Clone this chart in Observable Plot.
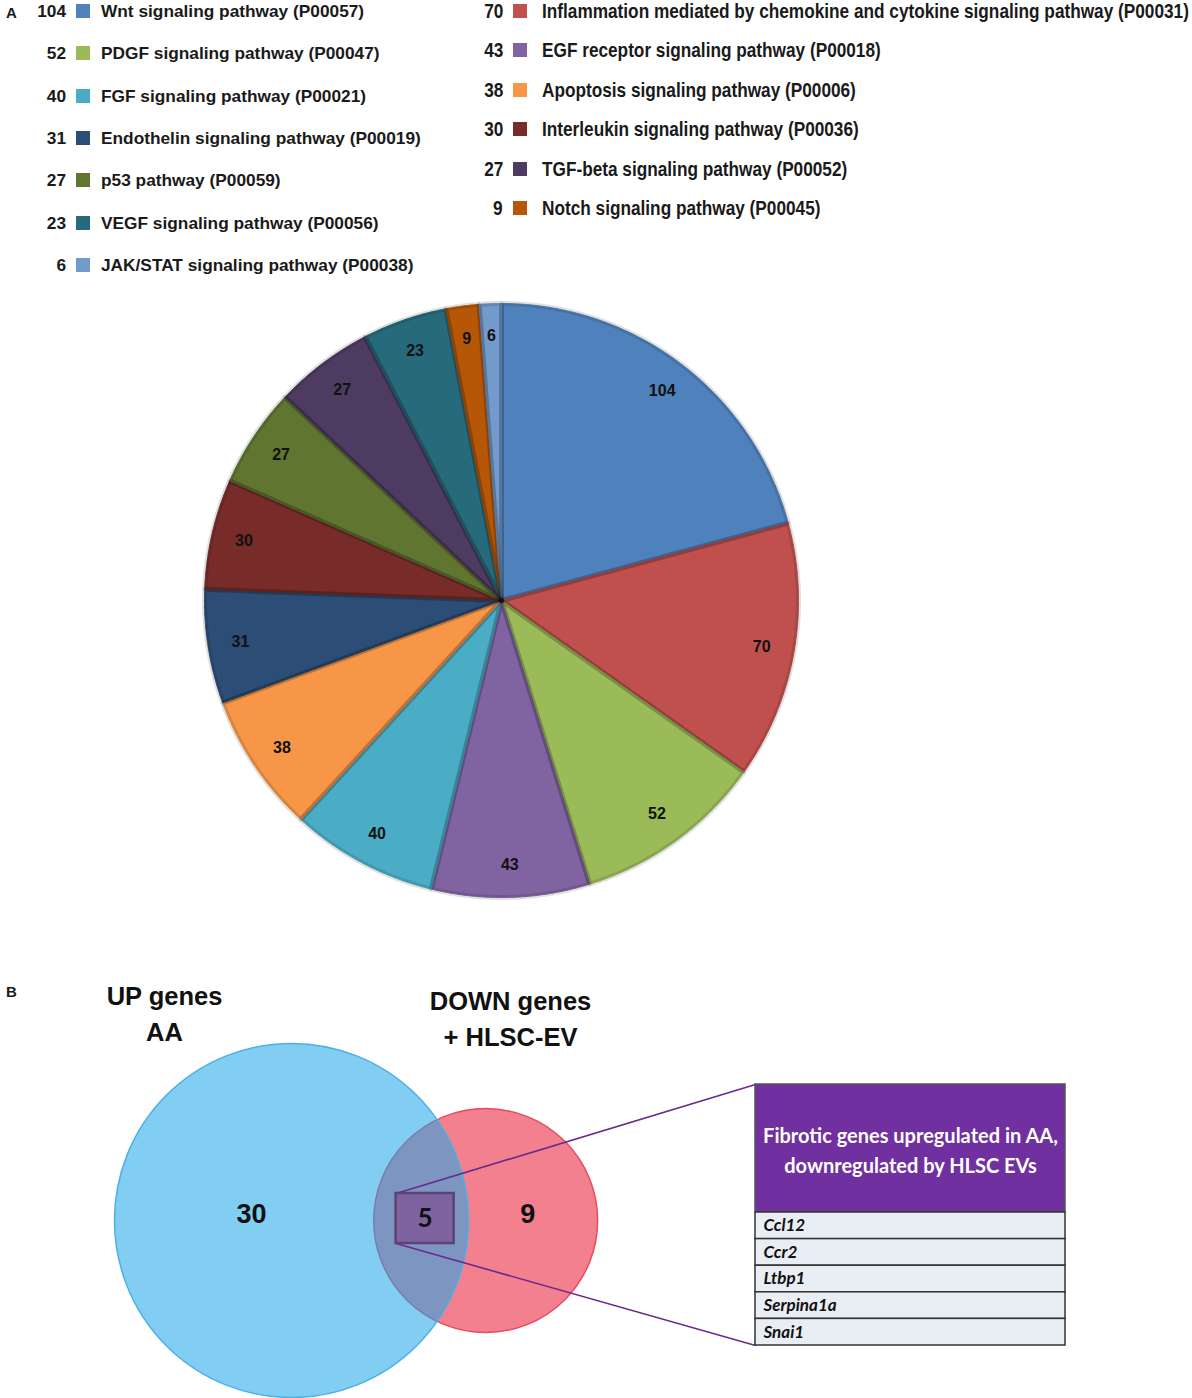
<!DOCTYPE html>
<html>
<head>
<meta charset="utf-8">
<script src="https://cdn.jsdelivr.net/npm/d3@7"></script>
<script src="https://cdn.jsdelivr.net/npm/@observablehq/plot@0.6"></script>
<style>
  body { margin: 0; background: #fff; }
  #page { position: relative; width: 1192px; height: 1398px; overflow: hidden; background: #fff;
          font-family: "Liberation Sans", Arial, sans-serif; color: #1a1a1a; }
  .abs { position: absolute; }
  .panel { font-weight: bold; font-size: 16px; }
  .cond { display: inline-block; transform: scaleX(0.82); }
  svg { display: block; }
</style>
</head>
<body>
<div id="page"></div>
<script>
// ---------------- DATA ----------------
const pathways = [
  "Wnt signaling pathway (P00057)",
  "Inflammation mediated by chemokine and cytokine signaling pathway (P00031)",
  "PDGF signaling pathway (P00047)",
  "EGF receptor signaling pathway (P00018)",
  "FGF signaling pathway (P00021)",
  "Apoptosis signaling pathway (P00006)",
  "Endothelin signaling pathway (P00019)",
  "Interleukin signaling pathway (P00036)",
  "p53 pathway (P00059)",
  "TGF-beta signaling pathway (P00052)",
  "VEGF signaling pathway (P00056)",
  "Notch signaling pathway (P00045)",
  "JAK/STAT signaling pathway (P00038)"
];
const geneCounts = [104, 70, 52, 43, 40, 38, 31, 30, 27, 27, 23, 9, 6];
const palette = ["#4F81BD", "#C0504D", "#9BBB59", "#8064A2", "#4BACC6", "#F79646",
                 "#2C4D75", "#772C2A", "#5F7530", "#4D3B62", "#276A7C", "#B65708", "#729ACA"];

const vennTitles = ["UP genes\nAA", "DOWN genes\n+ HLSC-EV"];
const vennOnly = [30, 9];
const vennShared = 5;
const tableTitle = "Fibrotic genes upregulated in AA,\ndownregulated by HLSC EVs";
const genes = ["Ccl12", "Ccr2", "Ltbp1", "Serpina1a", "Snai1"];

// ---------------- PAGE ----------------
const page = document.getElementById("page");
const SANS = '"Liberation Sans", Arial, sans-serif';
const CALI = 'Lato, "Open Sans", sans-serif';

function addDiv(cls, text, style, condensed, origin) {
  const d = document.createElement("div");
  d.className = cls;
  if (text != null) {
    if (condensed) {
      const s = document.createElement("span");
      s.className = "cond";
      s.style.transformOrigin = origin + " 50%";
      s.textContent = text;
      d.appendChild(s);
    } else d.textContent = text;
  }
  Object.assign(d.style, style);
  page.appendChild(d);
  return d;
}
addDiv("abs panel", "A", {left: "6px", top: "4px", fontSize: "15px"});
addDiv("abs panel", "B", {left: "6px", top: "983px", fontSize: "15px"});

// ---------------- LEGEND (two columns, row-major) ----------------
const legendItems = pathways.map((name, i) => ({name, count: geneCounts[i], color: palette[i], col: i % 2, row: Math.floor(i / 2)}));
const legendCols = [
  {numRight: 66, sqLeft: 76, textLeft: 101, y0: 11, pitch: 42.3, size: 17.3, condensed: false},
  {numRight: 503, sqLeft: 513, textLeft: 542, y0: 11, pitch: 39.4, size: 21, condensed: true}
];
for (const it of legendItems) {
  const c = legendCols[it.col];
  const top = c.y0 + it.row * c.pitch - 15;
  addDiv("abs", String(it.count), {
    top: top + "px", left: (c.numRight - 60) + "px", width: "60px", height: "30px", lineHeight: "30px",
    textAlign: "right", fontSize: c.size + "px", fontWeight: "bold", whiteSpace: "nowrap"
  }, c.condensed, "100%");
  addDiv("abs", null, {top: (top + 8) + "px", left: c.sqLeft + "px", width: "14px", height: "14px", background: it.color});
  addDiv("abs", it.name, {
    top: top + "px", left: c.textLeft + "px", height: "30px", lineHeight: "30px", whiteSpace: "nowrap",
    fontSize: c.size + "px", fontWeight: "bold"
  }, c.condensed, "0%");
}

// ---------------- PIE ----------------
const slices = pathways.map((name, i) => ({name, count: geneCounts[i]}));
const arcs = d3.pie().sort(null).value(d => d.count)(slices);
const polys = [];
for (const a of arcs) {
  const n = Math.max(4, Math.ceil((a.endAngle - a.startAngle) / 0.004));
  polys.push({name: a.data.name, x: 0, y: 0});
  for (let i = 0; i <= n; i++) {
    const t = a.startAngle + (a.endAngle - a.startAngle) * i / n;
    polys.push({name: a.data.name, x: Math.sin(t), y: Math.cos(t)});
  }
  polys.push({name: a.data.name, x: 0, y: 0});
}
const labelR = 0.89;
const pieLabels = arcs.map(a => {
  const m = (a.startAngle + a.endAngle) / 2;
  return {text: String(a.data.count), x: labelR * Math.sin(m), y: labelR * Math.cos(m)};
});

const pie = Plot.plot({
  width: 1192, height: 650,
  marginLeft: 204, marginRight: 394, marginTop: 18, marginBottom: 38,
  x: {domain: [-1, 1], axis: null},
  y: {domain: [-1, 1], axis: null},
  color: {domain: pathways, range: palette},
  marks: [
    Plot.line(polys, {x: "x", y: "y", z: "name", fill: "name", stroke: "name", strokeWidth: 1, strokeLinejoin: "miter"}),
    Plot.line(polys, {x: "x", y: "y", z: "name", fill: "none", stroke: "#000", strokeOpacity: 0.12, strokeWidth: 5, strokeLinejoin: "miter"}),
    Plot.text(pieLabels, {x: "x", y: "y", text: "text", fontSize: 16, fontWeight: "bold", fontFamily: SANS, fill: "#111"})
  ]
});
Object.assign(pie.style, {position: "absolute", left: "0px", top: "285px"});
page.appendChild(pie);

// ---------------- VENN ----------------
const totals = [vennOnly[0] + vennShared, vennOnly[1] + vennShared];
const rScale = d3.scaleSqrt().domain([0, totals[0]]).range([0, 177]);
const r1 = rScale(totals[0]), r2 = rScale(totals[1]);
function lens(d) {
  if (d >= r1 + r2) return 0;
  if (d <= Math.abs(r1 - r2)) return Math.PI * Math.min(r1, r2) ** 2;
  const d1 = (d * d + r1 * r1 - r2 * r2) / (2 * d), d2 = d - d1;
  return r1 * r1 * Math.acos(d1 / r1) - d1 * Math.sqrt(r1 * r1 - d1 * d1)
       + r2 * r2 * Math.acos(d2 / r2) - d2 * Math.sqrt(r2 * r2 - d2 * d2);
}
const target = vennShared / totals[0] * Math.PI * r1 * r1;
let lo = Math.abs(r1 - r2), hi = r1 + r2;
for (let k = 0; k < 60; k++) { const mid = (lo + hi) / 2; if (lens(mid) > target) lo = mid; else hi = mid; }
const dist = (lo + hi) / 2;
const cy = 1220, c1 = 291, c2 = c1 + dist + 3;
const circles = [
  {set: vennTitles[0], total: totals[0], x: c1, y: cy, r: r1},
  {set: vennTitles[1], total: totals[1], x: c2, y: cy, r: r2}
];
const regionLabels = [
  {text: String(vennOnly[0]), x: c1 - 40, y: cy - 6},
  {text: String(vennOnly[1]), x: c2 + 42, y: cy - 6}
];
const lensX = ((c2 - r2) + (c1 + r1)) / 2 + 4;
const box = {x1: lensX - 29, x2: lensX + 29, y1: cy - 27, y2: cy + 23};
const table = {x1: 755, x2: 1065, y1: 1084, yh: 1212, rowH: 26.6};
const rows = genes.map((g, i) => ({gene: g, y1: table.yh + i * table.rowH, y2: table.yh + (i + 1) * table.rowH}));
const tBottom = table.yh + genes.length * table.rowH;

const venn = Plot.plot({
  width: 1192, height: 438,
  margin: 0,
  x: {domain: [0, 1192], range: [0, 1192], axis: null},
  y: {domain: [960, 1398], range: [0, 438], axis: null},
  r: {type: "identity"},
  marks: [
    Plot.dot([circles[1]], {x: "x", y: "y", r: "r", fill: "#F2808F", stroke: "#E84A5F", strokeWidth: 1.5}),
    Plot.dot([circles[0]], {x: "x", y: "y", r: "r", fill: "#20A6E8", fillOpacity: 0.56, stroke: "#4AB0E6", strokeWidth: 1.5}),
    Plot.text(vennTitles, {x: [164, 510], y: [1011, 1016], text: d => d, fontSize: 25.5, fontWeight: "bold", fontFamily: SANS, lineHeight: 1.42, fill: "#111"}),
    Plot.text(regionLabels, {x: "x", y: "y", text: "text", fontSize: 27, fontWeight: "bold", fontFamily: SANS, fill: "#111"}),
    Plot.link([{x1: box.x1, y1: box.y1, x2: table.x1, y2: table.y1}, {x1: box.x1, y1: box.y2, x2: table.x1, y2: tBottom}],
      {x1: "x1", y1: "y1", x2: "x2", y2: "y2", stroke: "#6B2A8C", strokeWidth: 1.6}),
    Plot.rect([box], {x1: "x1", x2: "x2", y1: "y1", y2: "y2", fill: "#7F62A0", stroke: "#5A4474", strokeWidth: 2.5}),
    Plot.text([String(vennShared)], {x: [lensX], y: [cy - 2], text: d => d, fontSize: 26, fontWeight: "bold", fontFamily: CALI, fill: "#111"}),
    // table
    Plot.rect([table], {x1: "x1", x2: "x2", y1: "y1", y2: "yh", fill: "#7030A0", stroke: "#555", strokeWidth: 1.5}),
    Plot.text([tableTitle], {x: [(table.x1 + table.x2) / 2], y: [(table.y1 + table.yh) / 2], text: d => d, fill: "#fff", fontSize: 20, fontWeight: "bold", fontFamily: CALI, lineHeight: 1.5}),
    Plot.rect(rows, {x1: table.x1, x2: table.x2, y1: "y1", y2: "y2", fill: "#E9EDF4", stroke: "#333", strokeWidth: 1.5}),
    Plot.text(rows, {x: table.x1 + 8, y: d => (d.y1 + d.y2) / 2, text: "gene", textAnchor: "start", fontSize: 17, fontWeight: "bold", fontStyle: "italic", fontFamily: CALI, fill: "#111"})
  ]
});
Object.assign(venn.style, {position: "absolute", left: "0px", top: "960px"});
page.appendChild(venn);
</script>
</body>
</html>
